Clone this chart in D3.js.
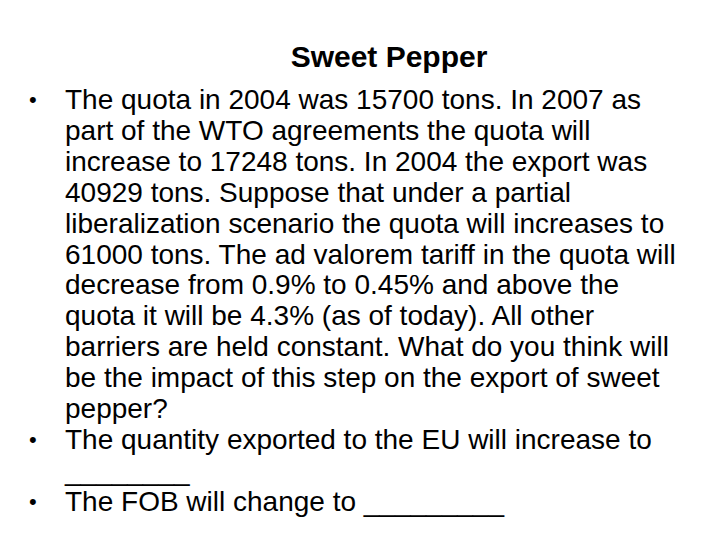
<!DOCTYPE html>
<html><head><meta charset="utf-8">
<script src="https://cdn.jsdelivr.net/npm/d3@7"></script>
<style>body{margin:0;background:#fff}</style>
</head><body>
<script>
// slide title and body lines
var title = "Sweet Pepper";
var bullet1 = [
  "The quota in 2004 was 15700 tons. In 2007 as",
  "part of the WTO agreements the quota will",
  "increase to 17248 tons. In 2004 the export was",
  "40929 tons. Suppose that under a partial",
  "liberalization scenario the quota will increases to",
  "61000 tons. The ad valorem tariff in the quota will",
  "decrease from 0.9% to 0.45% and above the",
  "quota it will be 4.3% (as of today). All other",
  "barriers are held constant. What do you think will",
  "be the impact of this step on the export of sweet",
  "pepper?"
];
var bullet2 = ["The quantity exported to the EU will increase to", "________"];
var bullet3 = ["The FOB will change to _________"];

var width = 720, height = 540;
var svg = d3.select('body').append('svg')
  .attr('width', width).attr('height', height);

svg.append('text')
  .attr('x', 389).attr('y', 67)
  .attr('text-anchor', 'middle')
  .style('font', 'bold 30px "Liberation Sans", Arial, sans-serif')
  .text(title);

// build one list of rows, marking which start a bullet
var rows = [];
[bullet1, bullet2, bullet3].forEach(function(b) {
  b.forEach(function(t, i) { rows.push({text: t, first: i === 0}); });
});

var y = d3.scaleLinear().domain([0, 1]).range([109, 109 + 30.9]);

var g = svg.append('g')
  .style('font', '28px "Liberation Sans", Arial, sans-serif')
  .style('fill', '#000');

g.selectAll('text.line').data(rows).enter().append('text')
  .attr('class', 'line')
  .attr('x', 65)
  .attr('y', function(d, i) { return y(i); })
  .text(function(d) { return d.text; });

g.selectAll('text.bullet').data(rows.filter(function(d) { return d.first; }))
  .enter().append('text')
  .attr('class', 'bullet')
  .attr('x', 29)
  .attr('y', function(d) { return y(rows.indexOf(d)) - 2; })
  .style('font-size', '22px')
  .text('•');
</script>
</body></html>
